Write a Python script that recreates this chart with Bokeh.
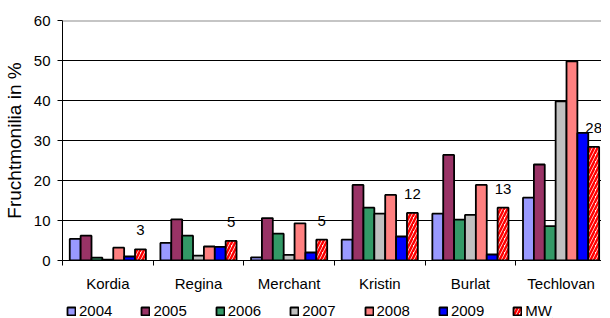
from bokeh.plotting import figure
from bokeh.models import (FixedTicker, Range1d, Legend, LegendItem, Span,
                          ColumnDataSource)
from bokeh.layouts import column
from bokeh.transform import dodge
from bokeh.core.properties import value
from bokeh.embed import file_html
from bokeh.resources import INLINE

# ---- data ----
categories = ["Kordia", "Regina", "Merchant", "Kristin", "Burlat", "Techlovan"]
series_names = ["2004", "2005", "2006", "2007", "2008", "2009", "MW"]
v2004 = [5.4, 4.4, 0.8, 5.2, 11.7, 15.7]
v2005 = [6.2, 10.3, 10.6, 18.9, 26.4, 24.0]
v2006 = [0.7, 6.2, 6.7, 13.2, 10.2, 8.6]
v2007 = [0.2, 1.2, 1.4, 11.7, 11.4, 39.8]
v2008 = [3.2, 3.5, 9.3, 16.4, 18.9, 49.8]
v2009 = [1.0, 3.4, 2.0, 6.0, 1.5, 31.9]
mw = [2.8, 4.9, 5.2, 11.9, 13.2, 28.4]
mw_labels = ["3", "5", "5", "12", "13", "28"]
y_ticks = [0, 10, 20, 30, 40, 50, 60]

colors = ["#9999FF", "#993366", "#339966", "#C0C0C0", "#FF8080", "#0000FF", "#FFFFFF"]
FONT = "Liberation Sans"
BW = 0.12


def bar_style(j, name):
    kw = dict(fill_color=colors[j], line_color="black", line_width=1.8)
    if name == "MW":
        kw.update(hatch_pattern="right_diagonal_line", hatch_color="#FF0000",
                  hatch_scale=7, hatch_weight=2.5)
    return kw


src = ColumnDataSource(dict(
    xc=[i + 0.5 for i in range(len(categories))],
    s2004=v2004, s2005=v2005, s2006=v2006, s2007=v2007, s2008=v2008, s2009=v2009,
    sMW=mw, lab=mw_labels,
))

p = figure(frame_width=539, frame_height=240,
           x_range=Range1d(0, 5.946), y_range=Range1d(y_ticks[0], y_ticks[-1]),
           output_backend="svg", toolbar_location=None,
           min_border_left=55, min_border_right=0, min_border_top=20, min_border_bottom=0)
p.outline_line_color = None
p.background_fill_color = "white"
p.border_fill_color = "white"

# grid
p.xgrid.visible = False
p.ygrid.ticker = FixedTicker(ticks=y_ticks[1:-1])
p.ygrid.grid_line_color = "black"
p.ygrid.grid_line_width = 1
p.add_layout(Span(location=y_ticks[-1], dimension="width", line_color="#8C8C8C", line_width=2))

for j, name in enumerate(series_names):
    p.vbar(x=dodge("xc", (j - 3) * BW, range=p.x_range), top="s" + name, width=BW,
           source=src, **bar_style(j, name))

p.text(x=dodge("xc", 3 * BW, range=p.x_range), y="sMW", text="lab", source=src,
       y_offset=-19, text_align="center", text_baseline="middle",
       text_font=value(FONT), text_font_size="15px", text_color="black")

# x axis
xa = p.xaxis[0]
xa.ticker = FixedTicker(ticks=[i + 0.5 for i in range(len(categories))],
                        minor_ticks=list(range(len(categories) + 1)))
xa.major_label_overrides = {i + 0.5: c for i, c in enumerate(categories)}
xa.major_tick_out = 0
xa.major_tick_in = 0
xa.minor_tick_out = 5
xa.minor_tick_in = 0
xa.minor_tick_line_color = "black"
xa.axis_line_color = "black"
xa.major_label_standoff = 9
xa.major_label_text_font = FONT
xa.major_label_text_font_size = "15px"
xa.major_label_text_color = "black"

# y axis
ya = p.yaxis[0]
ya.ticker = FixedTicker(ticks=y_ticks)
ya.major_tick_out = 5
ya.major_tick_in = 0
ya.minor_tick_out = 0
ya.minor_tick_in = 0
ya.axis_line_color = "black"
ya.major_tick_line_color = "black"
ya.major_label_standoff = 7
ya.major_label_text_font = FONT
ya.major_label_text_font_size = "15px"
ya.major_label_text_color = "black"
ya.axis_label = "Fruchtmonilia in %"
ya.axis_label_text_font = FONT
ya.axis_label_text_font_size = "19px"
ya.axis_label_text_font_style = "normal"
ya.axis_label_text_color = "black"
ya.axis_label_standoff = 6

# ---- legend strip (its bars lie outside its visible y range) ----
pl = figure(width=594, height=24, x_range=Range1d(0, 1), y_range=Range1d(100, 101),
            output_backend="svg", toolbar_location=None,
            min_border=0, x_axis_location=None, y_axis_location=None)
pl.outline_line_color = None
pl.grid.visible = False
pl.background_fill_color = "white"
pl.border_fill_color = "white"
leg_renderers = []
for j, name in enumerate(series_names):
    leg_renderers.append(pl.vbar(x=dodge("xc", (j - 3) * BW, range=pl.x_range), top="s" + name,
                                 width=BW, source=src, **bar_style(j, name)))

legend = Legend(items=[LegendItem(label=n, renderers=[r]) for n, r in zip(series_names, leg_renderers)],
                orientation="horizontal", location=(4, -1),
                glyph_width=10, glyph_height=10, label_standoff=3, spacing=28,
                padding=4, margin=0, label_height=15,
                border_line_color=None, background_fill_color="white", background_fill_alpha=1,
                label_text_font=FONT, label_text_font_size="15px", label_text_color="black")
pl.add_layout(legend, "center")

layout = column(p, pl, spacing=0)
open("out.html", "w").write(file_html(layout, INLINE))
